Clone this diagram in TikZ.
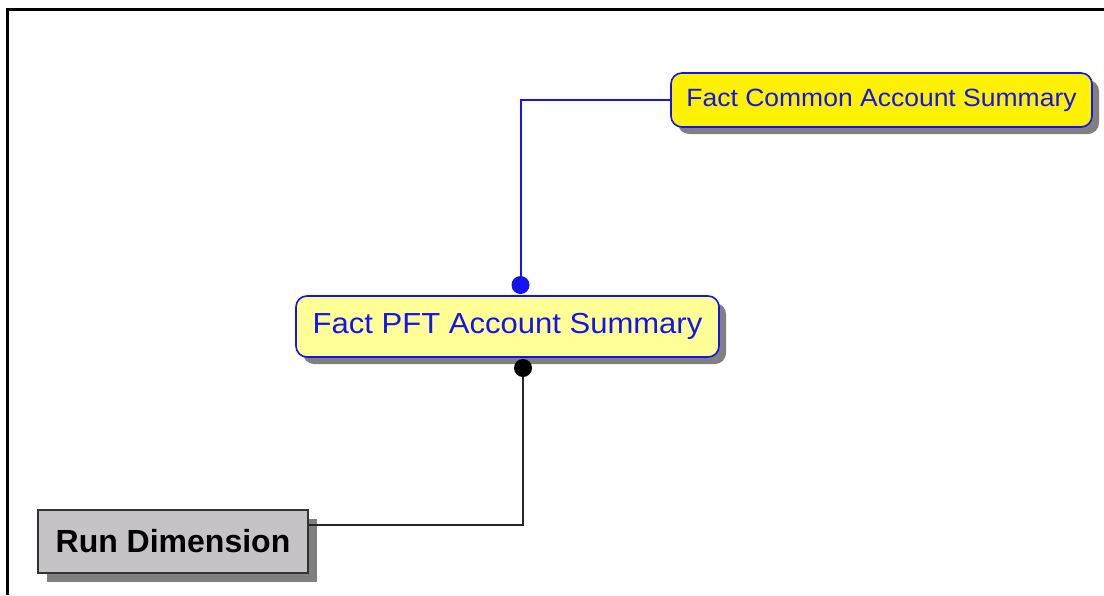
\documentclass[tikz,border=0pt]{standalone}
\usepackage{fontspec}
\setmainfont{Liberation Sans}
\newfontfamily\widefont[FakeStretch=1.06]{Liberation Sans}
\newfontfamily\widerfont[FakeStretch=1.07]{Liberation Sans}
\usetikzlibrary{shadows,calc}
\definecolor{entblue}{RGB}{20,20,240}
\definecolor{lightyel}{RGB}{255,255,150}
\definecolor{rungray}{RGB}{198,195,198}
\tikzset{
  shad/.style={drop shadow={shadow xshift=7pt,shadow yshift=-7pt,fill=black!50,opacity=1}},
  entity/.style={draw=entblue,line width=1.6pt,rounded corners=11pt,text=entblue,
    inner sep=0pt,shad},
  dimbox/.style={draw=black!80,line width=1.6pt,fill=rungray,inner sep=0pt,
    drop shadow={shadow xshift=9pt,shadow yshift=-9pt,fill=black!50,opacity=1},
    font=\bfseries\fontsize{32}{36}\selectfont},
  link/.style={line width=2pt},
  enddot/.style={circle,inner sep=0pt,minimum size=18pt}
}
\begin{document}
\begin{tikzpicture}[x=1pt,y=-1pt]
\useasboundingbox (0,0) rectangle (1104,595);
% frame
\draw[line width=2.6pt] (7.5,595) -- (7.5,9.5) -- (1104,9.5);
% nodes
\node[entity,fill=yellow,minimum width=421pt,minimum height=54pt,
  font=\widefont\fontsize{25}{28}\selectfont] (common) at (881.5,100) {Fact Common Account Summary};
\node[entity,fill=lightyel,minimum width=423pt,minimum height=61pt,
  font=\widerfont\fontsize{29}{32}\selectfont] (pft) at (507.5,326.5) {Fact PFT Account Summary};
\node[dimbox,minimum width=270pt,minimum height=63pt] (run) at (173,541.5) {Run Dimension};
% connectors
\coordinate (b1) at (520.5,285);
\coordinate (b2) at (523,368);
\coordinate (r1) at ($(run.north east)!0.25!(run.south east)$);
\draw[link,entblue] (common.west) -| (b1);
\node[enddot,fill=entblue] (d1) at (b1) {};
\draw[link,black!85] (b2) |- (r1);
\node[enddot,fill=black] (d2) at (b2) {};
\end{tikzpicture}
\end{document}
